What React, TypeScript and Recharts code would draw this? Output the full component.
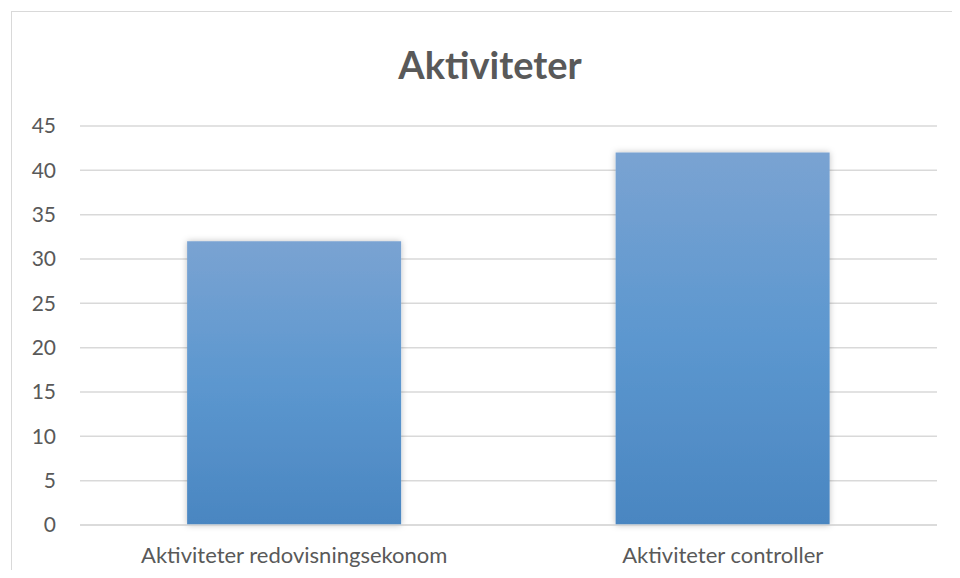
import { Bar, BarChart, CartesianGrid, XAxis, YAxis } from "recharts";

const categories = ["Aktiviteter redovisningsekonom", "Aktiviteter controller"];
const values = [32, 42];
const yTicks = [0, 5, 10, 15, 20, 25, 30, 35, 40, 45];

const data = categories.map((name, i) => ({ name, value: values[i] }));

const textColor = "#595959";
const font = "Lato, 'Open Sans', sans-serif";

export default function App() {
  return (
    <div
      style={{
        position: "relative",
        width: 960,
        height: 578,
        margin: -8,
        overflow: "hidden",
        background: "#fff",
        fontFamily: font,
      }}
    >
      <div
        style={{
          position: "absolute",
          left: 11,
          top: 11,
          width: 1000,
          height: 600,
          border: "1.5px solid #d9d9d9",
        }}
      />
      <div
        style={{
          position: "absolute",
          left: 340,
          top: 41,
          width: 300,
          textAlign: "center",
          fontSize: 38,
          fontWeight: 700,
          color: textColor,
        }}
      >
        Aktiviteter
      </div>
      <div style={{ position: "absolute", left: 0, top: 0 }}>
        <BarChart
          width={960}
          height={578}
          data={data}
          margin={{ top: 126, right: 23, bottom: 0, left: 0 }}
          barCategoryGap="25%"
        >
          <defs>
            <linearGradient id="barFill" x1="0" y1="0" x2="0" y2="1">
              <stop offset="0%" stopColor="#7aa3d2" />
              <stop offset="50%" stopColor="#5c97cf" />
              <stop offset="100%" stopColor="#4a86c1" />
            </linearGradient>
            <filter id="shadow" x="-10%" y="-10%" width="120%" height="120%">
              <feDropShadow dx="0" dy="0" stdDeviation="3" floodColor="#000" floodOpacity="0.25" />
            </filter>
          </defs>
          <CartesianGrid vertical={false} stroke="#d9d9d9" strokeWidth={1.5} />
          <XAxis
            dataKey="name"
            height={53}
            axisLine={{ stroke: "#d9d9d9", strokeWidth: 1.5 }}
            tickLine={false}
            tickMargin={16}
            tick={{ fill: textColor, fontSize: 22, fontFamily: font }}
          />
          <YAxis
            width={80}
            domain={[0, 45]}
            ticks={yTicks}
            axisLine={false}
            tickLine={false}
            tickMargin={18}
            tick={{ fill: textColor, fontSize: 21, fontFamily: font }}
          />
          <Bar
            dataKey="value"
            fill="url(#barFill)"
            filter="url(#shadow)"
            isAnimationActive={false}
          />
        </BarChart>
      </div>
    </div>
  );
}
